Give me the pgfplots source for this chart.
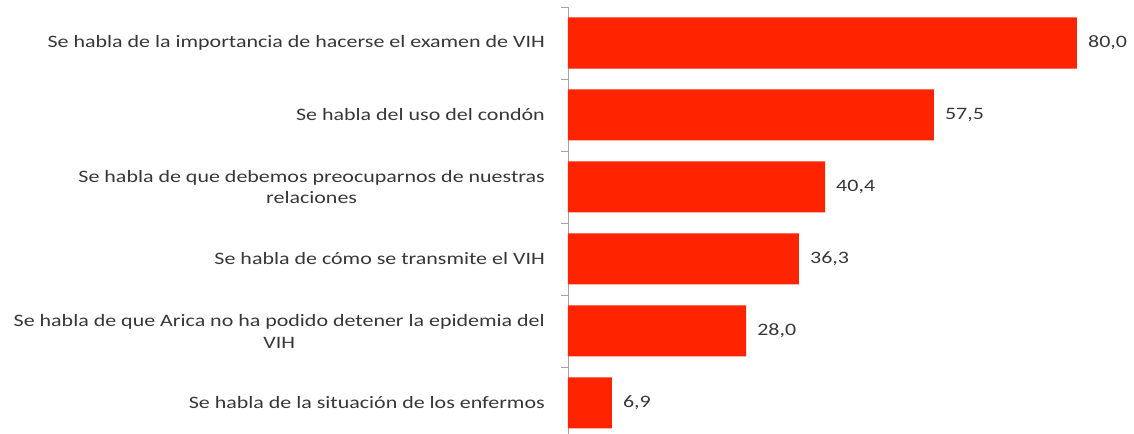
\documentclass[border=0pt]{standalone}
\usepackage{pgfplots}
\pgfplotsset{compat=1.18}
\usepackage{fontspec}
\setmainfont{Carlito}[FakeStretch=1.26]
\definecolor{barred}{RGB}{255,36,0}
\definecolor{txtgray}{RGB}{55,55,55}
\definecolor{axgray}{RGB}{165,165,165}
\begin{document}
\begin{tikzpicture}
\begin{axis}[
 name=ax,
 scale only axis,
 width=509bp, height=432bp,
 xmin=0, xmax=80,
 ymin=-0.5, ymax=5.5,
 y dir=reverse,
 xbar, bar width=51bp,
 hide x axis,
 axis y line*=left,
 y axis line style={-, draw=axgray, line width=0.9pt},
 ytick={0,1,2,3,4,5},
 yticklabels={
  {Se habla de la importancia de hacerse el examen de VIH},
  {Se habla del uso del condón},
  {Se habla de que debemos preocuparnos de nuestras\\relaciones},
  {Se habla de cómo se transmite el VIH},
  {Se habla de que Arica no ha podido detener la epidemia del\\VIH},
  {Se habla de la situación de los enfermos}},
 major tick length=0pt,
 minor ytick={-0.5,0.5,1.5,2.5,3.5,4.5,5.5},
 minor tick length=7bp,
 tick align=outside,
 minor tick style={draw=axgray, line width=0.9pt},
 yticklabel style={font=\fontsize{17.5}{22}\selectfont, text=txtgray, align=center, xshift=-23bp, inner sep=0pt},
 clip=false,
 nodes near coords={\pgfmathprintnumber[fixed,fixed zerofill,precision=1,use comma,assume math mode=true]{\pgfplotspointmeta}},
 nodes near coords style={font=\fontsize{17.5}{20}\selectfont, text=txtgray, anchor=west, xshift=11bp, inner sep=0pt},
]
\addplot[fill=barred, draw=none] coordinates {(80.0,0) (57.5,1) (40.4,2) (36.3,3) (28.0,4) (6.9,5)};
\end{axis}
\pgfresetboundingbox
\path ([shift={(-568bp,7bp)}]ax.north west) rectangle ([shift={(566bp,-427bp)}]ax.north west);
\end{tikzpicture}
\end{document}
